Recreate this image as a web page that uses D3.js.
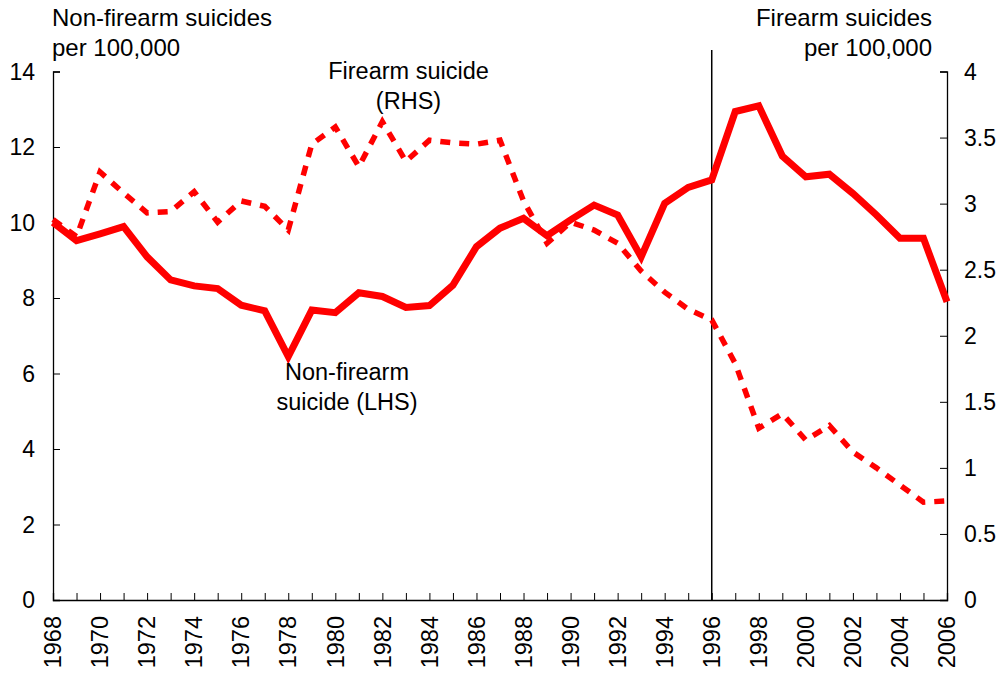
<!DOCTYPE html>
<html>
<head>
<meta charset="utf-8">
<script src="https://cdn.jsdelivr.net/npm/d3@7"></script>
<style>
  body { margin: 0; background: #fff; }
  svg { display: block; font-family: "Liberation Sans", Arial, sans-serif; }
</style>
</head>
<body>
<svg id="chart" width="1000" height="673"></svg>
<script>
const years = d3.range(1968, 2007);
const nonFirearm = [10.0, 9.52, 9.7, 9.89, 9.09, 8.48, 8.32, 8.25, 7.81, 7.66,
  6.45, 7.68, 7.61, 8.14, 8.04, 7.75, 7.80, 8.34, 9.36, 9.85,
  10.11, 9.65, 10.07, 10.46, 10.2, 9.09, 10.51, 10.93, 11.13, 12.94,
  13.09, 11.76, 11.21, 11.28, 10.77, 10.2, 9.58, 9.58, 7.90];
const firearm = [2.88, 2.75, 3.24, 3.08, 2.93, 2.94, 3.09, 2.86, 3.02, 2.98,
  2.80, 3.45, 3.58, 3.28, 3.62, 3.32, 3.48, 3.46, 3.45, 3.48,
  3.02, 2.70, 2.86, 2.80, 2.70, 2.49, 2.33, 2.20, 2.12, 1.79,
  1.30, 1.41, 1.21, 1.32, 1.12, 1.00, 0.87, 0.74, 0.75];
const leftTicks = [0, 2, 4, 6, 8, 10, 12, 14];
const rightTicks = [0, 0.5, 1, 1.5, 2, 2.5, 3, 3.5, 4];
const xTickYears = d3.range(1968, 2007, 2);
const markerYear = 1996;

const svg = d3.select("#chart");
const L = 53, R = 947, T = 71.5, B = 600;
const x = d3.scaleLinear().domain([1968, 2006]).range([L, R]);
const yL = d3.scaleLinear().domain([0, 14]).range([B, T]);
const yR = d3.scaleLinear().domain([0, 4]).range([B, T]);
const red = "#ff0000";
const fs = "23px";

// Axes
const ax = svg.append("g").attr("transform", `translate(0,${B})`)
  .call(d3.axisBottom(x).tickValues(d3.range(1968, 2007)).tickSize(-7).tickFormat(""));
const gl = svg.append("g").attr("transform", `translate(${L},0)`)
  .call(d3.axisLeft(yL).tickValues(leftTicks).tickSize(-7).tickFormat(""));
const gr = svg.append("g").attr("transform", `translate(${R},0)`)
  .call(d3.axisRight(yR).tickValues(rightTicks).tickSize(-7).tickFormat(""));
[ax, gl, gr].forEach(g => {
  g.selectAll("path").attr("stroke", "#000").attr("stroke-width", 1.3);
  g.selectAll("line").attr("stroke", "#000").attr("stroke-width", 1);
});

// Tick labels
svg.append("g").selectAll("text").data(leftTicks).join("text")
  .attr("x", 35).attr("y", d => yL(d)).attr("dy", "0.35em")
  .attr("text-anchor", "end").style("font-size", fs).text(d => d);
svg.append("g").selectAll("text").data(rightTicks).join("text")
  .attr("x", 964).attr("y", d => yR(d)).attr("dy", "0.35em")
  .attr("text-anchor", "start").style("font-size", fs).text(d => d);
svg.append("g").selectAll("text").data(xTickYears).join("text")
  .attr("transform", d => `translate(${x(d)},616) rotate(-90)`)
  .attr("dy", "0.35em").attr("text-anchor", "end")
  .style("font-size", "23.5px").text(d => d);

// Vertical marker
svg.append("line").attr("x1", x(markerYear)).attr("x2", x(markerYear))
  .attr("y1", 50).attr("y2", B).attr("stroke", "#000").attr("stroke-width", 1.5);

// Lines
const lineL = d3.line().x((d, i) => x(years[i])).y(d => yL(d));
const lineR = d3.line().x((d, i) => x(years[i])).y(d => yR(d));
svg.append("path").datum(firearm).attr("d", lineR)
  .attr("fill", "none").attr("stroke", red).attr("stroke-width", 5.5)
  .attr("stroke-dasharray", "10,9");
svg.append("path").datum(nonFirearm).attr("d", lineL)
  .attr("fill", "none").attr("stroke", red).attr("stroke-width", 7)
  .attr("stroke-linejoin", "miter");

// Titles and annotations
function multi(xp, y0, lines, anchor, size) {
  const t = svg.append("text").attr("text-anchor", anchor).style("font-size", size);
  lines.forEach((s, i) => t.append("tspan").attr("x", xp).attr("y", y0 + i * 30).text(s));
}
multi(52, 26, ["Non-firearm suicides", "per 100,000"], "start", "24px");
multi(932, 26, ["Firearm suicides", "per 100,000"], "end", "24px");
multi(408.5, 79, ["Firearm suicide", "(RHS)"], "middle", "23.5px");
multi(347, 380, ["Non-firearm", "suicide (LHS)"], "middle", "23.5px");
</script>
</body>
</html>
